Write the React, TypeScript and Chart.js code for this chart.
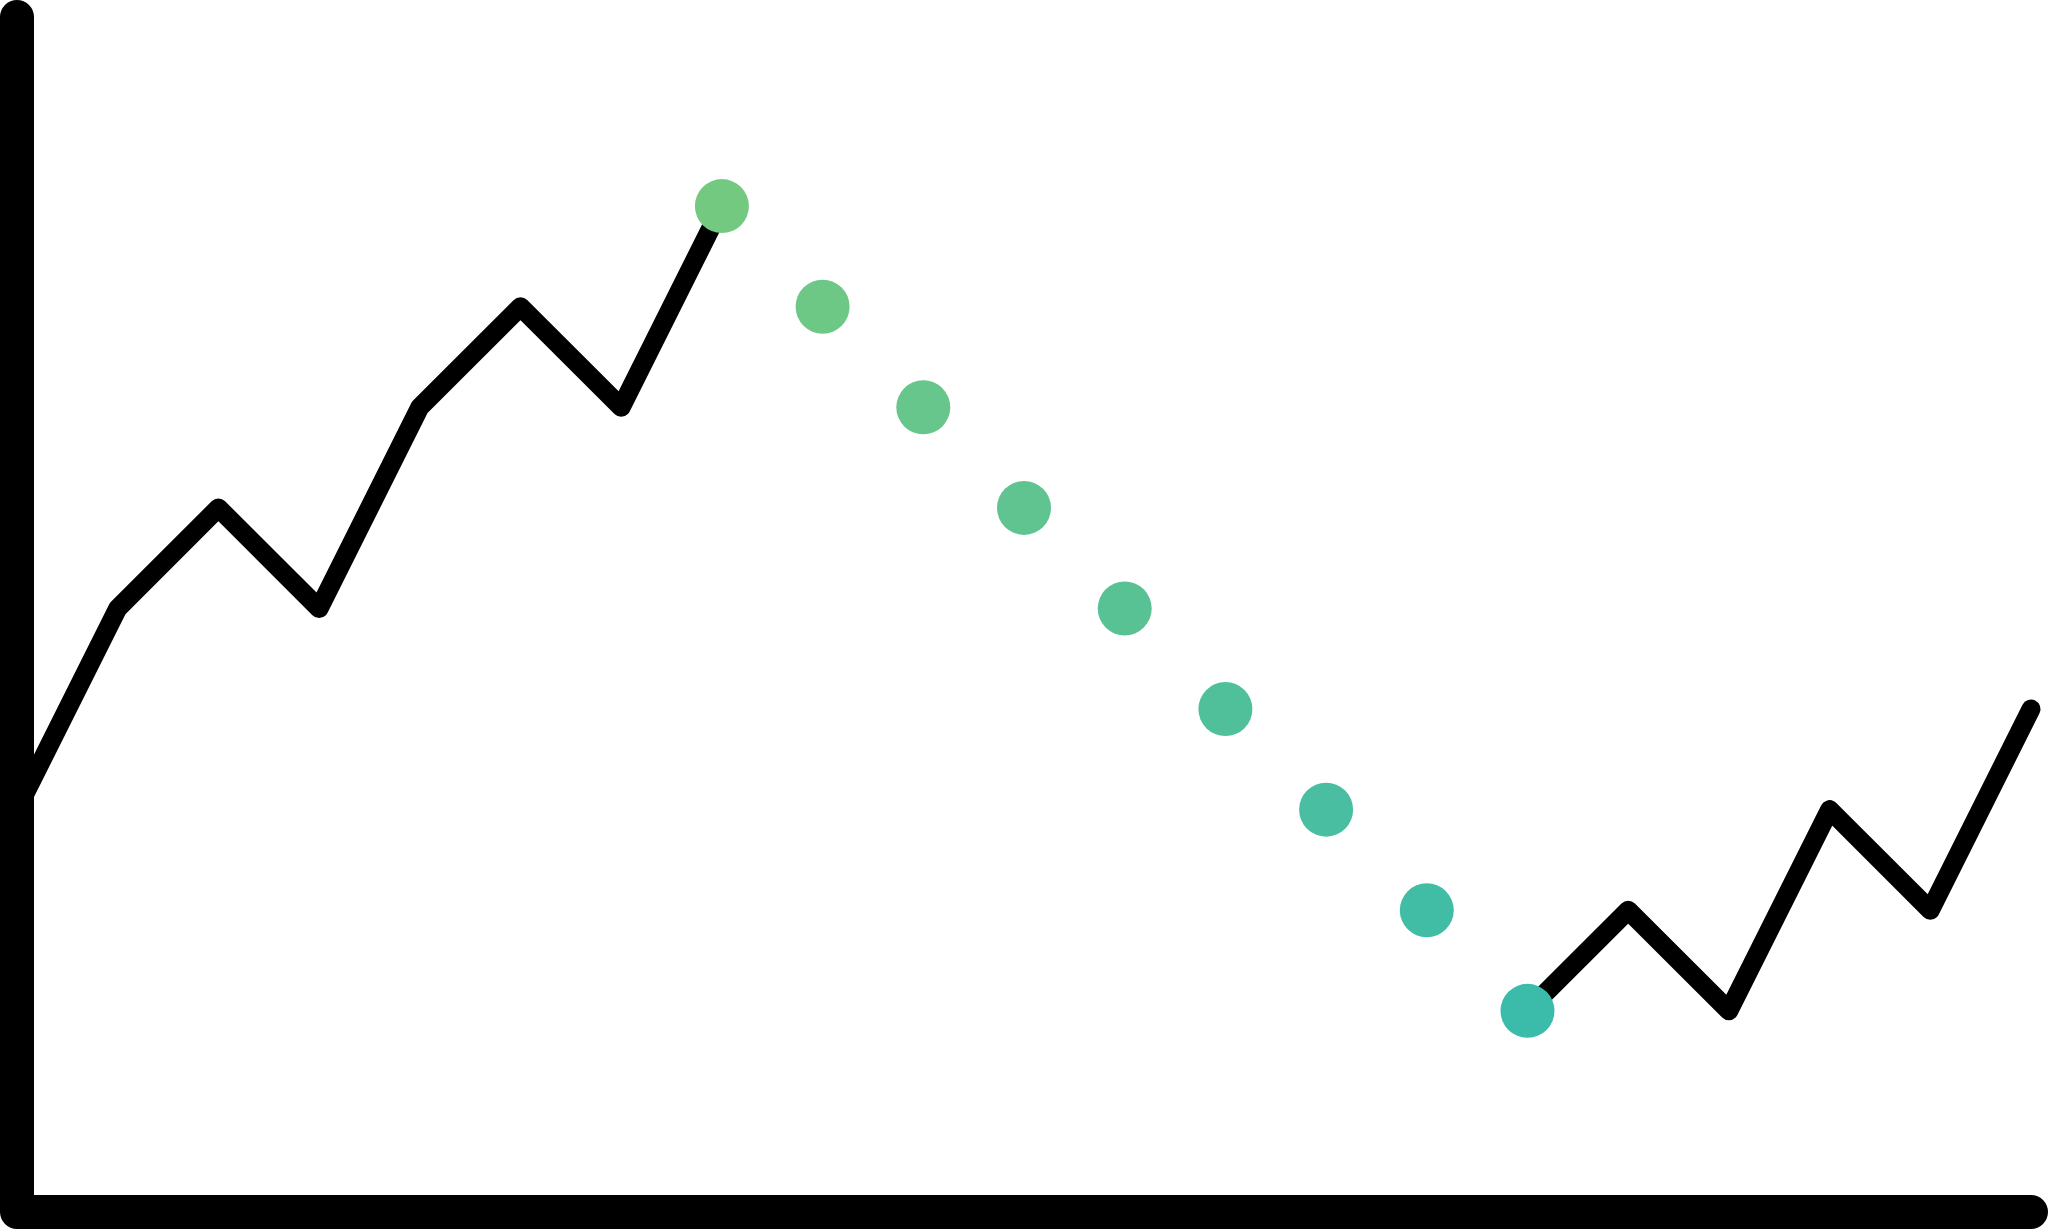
import React, { useEffect, useRef } from "react";
import { Chart, registerables } from "chart.js";

Chart.register(...registerables);

// Positions along the horizontal axis (index of each step)
const riseSteps = [0, 1, 2, 3, 4, 5, 6, 7];
const riseValues = [4, 6, 7, 6, 8, 9, 8, 10];

const dotSteps = [7, 8, 9, 10, 11, 12, 13, 14, 15];
const dotValues = [10, 9, 8, 7, 6, 5, 4, 3, 2];
const dotColors = [
  "#74C980",
  "#6DC785",
  "#66C68B",
  "#5FC490",
  "#58C295",
  "#50C09A",
  "#49BEA0",
  "#42BDA5",
  "#3BBBAA",
];

const recoverSteps = [15, 16, 17, 18, 19, 20];
const recoverValues = [2, 3, 2, 4, 3, 5];

const xMin = 0;
const xMax = 20;
const yMin = 0;
const yMax = 11.88;

const toPoints = (xs: number[], ys: number[]) => xs.map((x, i) => ({ x, y: ys[i] }));

const axesPlugin = {
  id: "roundAxes",
  afterDatasetsDraw(chart: any) {
    const { ctx } = chart;
    const xs = chart.scales.x;
    const ys = chart.scales.y;
    const left = xs.getPixelForValue(xMin);
    const right = xs.getPixelForValue(xMax);
    const top = ys.getPixelForValue(yMax);
    const bottom = ys.getPixelForValue(yMin);
    ctx.save();
    ctx.strokeStyle = "#000000";
    ctx.lineWidth = 34;
    ctx.lineCap = "round";
    ctx.lineJoin = "round";
    ctx.beginPath();
    ctx.moveTo(left, top);
    ctx.lineTo(left, bottom);
    ctx.lineTo(right, bottom);
    ctx.stroke();
    ctx.restore();
  },
};

export default function App() {
  const canvasRef = useRef<HTMLCanvasElement | null>(null);

  useEffect(() => {
    if (!canvasRef.current) return;
    const chart = new Chart(canvasRef.current, {
      type: "line",
      data: {
        datasets: [
          {
            label: "dots",
            data: toPoints(dotSteps, dotValues),
            showLine: false,
            pointRadius: 27,
            pointHoverRadius: 27,
            pointBorderWidth: 0,
            pointBackgroundColor: dotColors,
            pointBorderColor: dotColors,
            order: 0,
            clip: false as any,
          },
          {
            label: "rise",
            data: toPoints(riseSteps, riseValues),
            borderColor: "#000000",
            borderWidth: 19,
            borderJoinStyle: "round",
            borderCapStyle: "round",
            pointRadius: 0,
            tension: 0,
            fill: false,
            order: 1,
            clip: false as any,
          },
          {
            label: "recover",
            data: toPoints(recoverSteps, recoverValues),
            borderColor: "#000000",
            borderWidth: 19,
            borderJoinStyle: "round",
            borderCapStyle: "round",
            pointRadius: 0,
            tension: 0,
            fill: false,
            order: 1,
            clip: false as any,
          },
        ],
      },
      options: {
        animation: false,
        responsive: true,
        maintainAspectRatio: false,
        events: [],
        layout: {
          autoPadding: false,
          padding: { left: 17, right: 17, top: 17, bottom: 17 },
        },
        plugins: {
          legend: { display: false },
          tooltip: { enabled: false },
        },
        scales: {
          x: { type: "linear", min: xMin, max: xMax, display: false },
          y: { type: "linear", min: yMin, max: yMax, display: false },
        },
      },
      plugins: [axesPlugin],
    });
    return () => chart.destroy();
  }, []);

  return (
    <div
      style={{
        position: "absolute",
        left: 0,
        top: 0,
        width: "2048px",
        height: "1229px",
        background: "#ffffff",
      }}
    >
      <canvas ref={canvasRef} />
    </div>
  );
}
